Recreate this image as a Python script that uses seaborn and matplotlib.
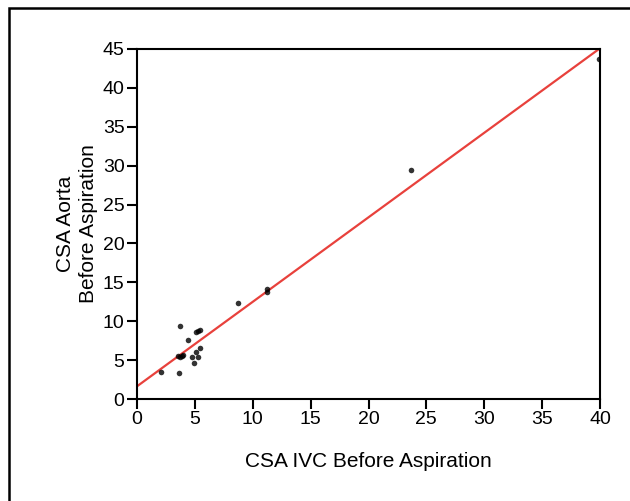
import matplotlib
matplotlib.use("Agg")
import matplotlib.pyplot as plt
import seaborn as sns
import pandas as pd
from matplotlib.patches import Rectangle

ivc = [8.75, 3.74, 5.1, 5.3, 5.44, 4.43, 5.41, 5.1, 3.57, 3.71, 3.86, 4.0,
       4.72, 5.3, 4.95, 2.07, 3.6, 11.26, 11.26, 23.7, 39.9]
aorta = [12.4, 9.38, 8.57, 8.78, 8.9, 7.58, 6.6, 6.08, 5.53, 5.44, 5.57, 5.6,
         5.36, 5.36, 4.63, 3.43, 3.38, 14.2, 13.8, 29.4, 43.7]
xticks = [0, 5, 10, 15, 20, 25, 30, 35, 40]
yticks = [0, 5, 10, 15, 20, 25, 30, 35, 40, 45]

df = pd.DataFrame({"ivc": ivc, "aorta": aorta})

sns.set_style("white")
plt.rcParams['font.family'] = ['Liberation Sans', 'DejaVu Sans']
plt.rcParams['text.color'] = 'black'
plt.rcParams['axes.labelcolor'] = 'black'

fig = plt.figure(figsize=(6.3, 5.01), dpi=100)
ax = fig.add_axes([137/630, 102/501, 463/630, 350/501])
ax.set_xlim(0, 40)
ax.set_ylim(0, 45)

sns.regplot(data=df, x="ivc", y="aorta", ax=ax, ci=None, truncate=False,
            scatter_kws=dict(s=16, color="black", linewidths=0, zorder=3),
            line_kws=dict(color="#e8413c", lw=1.6, zorder=2))

ax.set_xlim(0, 40)
ax.set_ylim(0, 45)
ax.set_xticks(xticks)
ax.set_yticks(yticks)
ax.tick_params(axis="both", direction="out", length=7, width=1.5,
               labelsize=14, color="black", labelcolor="black", pad=2,
               bottom=True, left=True)
for s in ax.spines.values():
    s.set_color("black")
    s.set_linewidth(1.5)
ax.set_xlabel("CSA IVC Before Aspiration", fontsize=15, labelpad=17, color="black")
ax.set_ylabel("CSA Aorta\nBefore Aspiration", fontsize=15, labelpad=3,
              color="black", linespacing=1.3)

fig.patches.append(Rectangle((9/630, -0.2), 1.2, (501-8)/501 + 0.2,
                             transform=fig.transFigure, fill=False,
                             edgecolor="black", lw=1.8, zorder=10))

fig.savefig("out.png", dpi=100)
